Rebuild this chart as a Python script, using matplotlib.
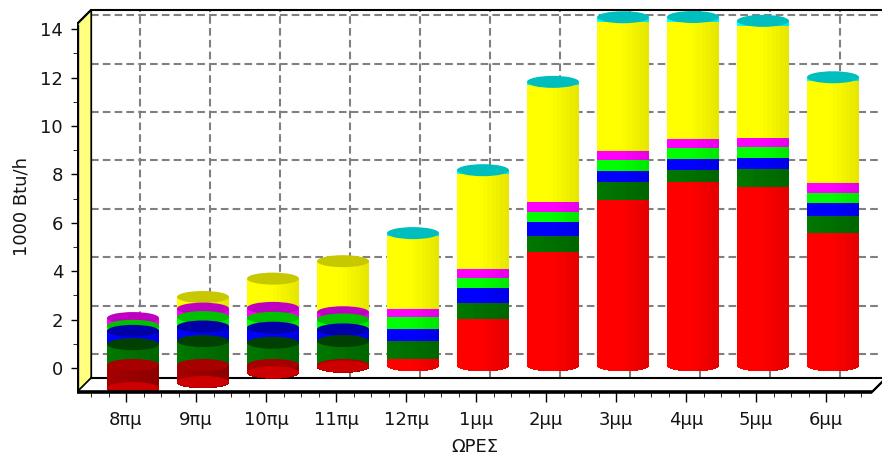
import numpy as np
import matplotlib
matplotlib.use("Agg")
import matplotlib.pyplot as plt
from matplotlib.patches import Polygon, Ellipse

# ---- data (1000 Btu/h per hour, stacked components) ----
categories = ['8πμ', '9πμ', '10πμ', '11πμ', '12πμ', '1μμ', '2μμ', '3μμ', '4μμ', '5μμ', '6μμ']
red     = [-0.95, -0.70, -0.30, -0.06, 0.26, 1.91, 4.66, 6.81, 7.55, 7.36, 5.45]
dkgreen = [0.86, 0.99, 0.92, 0.99, 0.72, 0.66, 0.67, 0.75, 0.52, 0.72, 0.70]
blue    = [0.55, 0.60, 0.62, 0.48, 0.52, 0.60, 0.59, 0.45, 0.45, 0.47, 0.55]
green   = [0.21, 0.39, 0.41, 0.41, 0.47, 0.41, 0.40, 0.47, 0.46, 0.47, 0.41]
magenta = [0.32, 0.35, 0.41, 0.30, 0.33, 0.38, 0.40, 0.36, 0.36, 0.37, 0.41]
yellow  = [0.00, 0.48, 1.21, 2.11, 3.03, 3.95, 4.86, 5.33, 4.82, 4.60, 4.21]
cyan    = [0.00, 0.00, 0.00, 0.00, 0.12, 0.14, 0.12, 0.20, 0.22, 0.23, 0.16]
yticks = list(range(0, 15, 2))

series = [red, dkgreen, blue, green, magenta, yellow, cyan]
body_colors = ['#ff0000', '#007000', '#0000ff', '#00ff00', '#ff00ff', '#ffff00', '#00ffff']
cap_colors = ['#c40000', '#004000', '#0000a8', '#00c000', '#c000c0', '#c8c800', '#00bebe']
neg_body = '#9a0000'
neg_cap = '#cc0000'

# ---- figure / pseudo-3D frame geometry (pixels) ----
W, H = 882, 461
box_l, box_r, box_t, box_b = 77, 882, 10, 392
cat_px, unit_px = 70.0, 24.2
first_cat_px, zero_px = 126, 368
depth_px = 14
front_end_px = 872

plt.rcParams['font.family'] = ['DejaVu Sans']
plt.rcParams['lines.scale_dashes'] = False
fig = plt.figure(figsize=(W / 100, H / 100), dpi=100)
fig.patch.set_facecolor('white')
ax = fig.add_axes([box_l / W, 1 - box_b / H, (box_r - box_l) / W, (box_b - box_t) / H])
x_lo = (box_l - first_cat_px) / cat_px
x_hi = (box_r - first_cat_px) / cat_px
y_lo = (zero_px - box_b) / unit_px
y_hi = (zero_px - box_t) / unit_px
ax.set_xlim(x_lo, x_hi)
ax.set_ylim(y_lo, y_hi)
ax.set_facecolor('none')
for s in ax.spines.values():
    s.set_visible(False)

ddx = depth_px / cat_px
ddy = depth_px / unit_px
vmin, vmax = y_lo, y_hi - ddy
xf_end = (front_end_px - first_cat_px) / cat_px

# left side wall
ax.add_patch(Polygon([(x_lo, vmin), (x_lo, vmax), (x_lo + ddx, vmax + ddy), (x_lo + ddx, vmin + ddy)],
                     closed=True, facecolor='#ffff80', edgecolor='black', lw=0.8, zorder=1))
# floor
ax.add_patch(Polygon([(x_lo, vmin), (xf_end, vmin), (xf_end + ddx, vmin + ddy), (x_lo + ddx, vmin + ddy)],
                     closed=True, facecolor='white', edgecolor='black', lw=1.2, zorder=1))
# back wall edges
ax.plot([x_lo + ddx, x_lo + ddx], [vmin + ddy, vmax + ddy], color='black', lw=0.9, zorder=1.5)
ax.plot([x_lo + ddx, xf_end + ddx], [vmax + ddy, vmax + ddy], color='black', lw=1.5, zorder=1.5,
        clip_on=False)
ax.plot([x_lo + ddx, xf_end + ddx], [vmin + ddy, vmin + ddy], color='black', lw=1.5, zorder=1.5,
        clip_on=False)

# dashed grid on back wall
grid_kw = dict(color='#808080', lw=1.5, dashes=(5.5, 3.0), zorder=1.2)
for v in yticks:
    ax.plot([x_lo + ddx, xf_end + ddx], [v + ddy, v + ddy], **grid_kw)
for i in range(len(categories)):
    ax.plot([i + ddx, i + ddx], [vmin + ddy, vmax + ddy], **grid_kw)

# ---- cylinders ----
hw = 26 / cat_px
ell = 6 / unit_px
plane_dy = (zero_px - 365) / unit_px
n_strips = 12


def shade(color, f):
    rgb = np.array(matplotlib.colors.to_rgb(color))
    return tuple(np.clip(rgb * f, 0, 1))


def body(cx, lo, hi, color, arc):
    edges = np.linspace(cx - hw, cx + hw, n_strips + 1)
    for a, b in zip(edges[:-1], edges[1:]):
        u = ((a + b) / 2 - cx) / hw
        f = 0.99 - 0.09 * u
        pts = [(a, hi), (b, hi)]
        if arc:
            xs = np.linspace(b, a, 6)
            pts += [(x, lo - ell * np.sqrt(max(0.0, 1 - ((x - cx) / hw) ** 2))) for x in xs]
        else:
            pts += [(b, lo), (a, lo)]
        ax.add_patch(Polygon(pts, closed=True, facecolor=shade(color, f), edgecolor='none',
                             antialiased=False, zorder=3))


def cap(cx, y, color):
    ax.add_patch(Ellipse((cx, y), 2 * hw, 2 * ell, facecolor=color, edgecolor='none', zorder=3))


for i in range(len(categories)):
    cx = i + ddx / 2
    vals = [s[i] for s in series]
    # positive parts stack up from zero
    segs = []
    base = 0.0
    for k, v in enumerate(vals):
        if v > 0:
            segs.append((k, base, base + v))
            base += v
    if vals[0] < 0:
        # stack drawn from the top down, every segment showing its cap
        for k, lo, hi in reversed(segs):
            body(cx, lo + plane_dy, hi + plane_dy, body_colors[k], True)
            cap(cx, hi + plane_dy, cap_colors[k])
        body(cx, vals[0] + plane_dy, plane_dy, neg_body, True)
        cap(cx, plane_dy, shade(neg_body, 1.08))
        cap(cx, vals[0] + plane_dy, neg_cap)
    else:
        for j, (k, lo, hi) in enumerate(segs):
            body(cx, lo + plane_dy, hi + plane_dy, body_colors[k], j == 0)
        k, lo, hi = segs[-1]
        cap(cx, hi + plane_dy, cap_colors[k])

# front axis lines
ax.plot([x_lo, x_lo], [vmin, vmax], color='black', lw=2.4, zorder=5, solid_capstyle='butt')
ax.plot([x_lo, x_lo + ddx], [vmax, vmax + ddy], color='black', lw=1.6, zorder=5)
ax.plot([x_lo, xf_end], [vmin, vmin], color='black', lw=2.6, zorder=5, solid_capstyle='butt',
        clip_on=False)
ax.plot([xf_end, xf_end + ddx], [vmin, vmin + ddy], color='black', lw=1.6, zorder=5, clip_on=False)

# ticks and labels
ax.set_yticks(yticks)
ax.set_yticklabels([str(v) for v in yticks])
ax.set_yticks(np.arange(0, 15, 1), minor=True)
ax.set_xticks(range(len(categories)))
ax.set_xticklabels(categories)
ax.set_xticks(np.arange(-0.5, len(categories) - 0.5 + 0.01, 0.25), minor=True)
ax.tick_params(axis='both', colors='black', labelcolor='#141414', labelsize=13, width=1)
ax.tick_params(axis='y', which='major', length=4, pad=6)
ax.tick_params(axis='y', which='minor', length=3)
ax.tick_params(axis='x', which='major', length=7, pad=6.5)
ax.tick_params(axis='x', which='minor', length=3.5)

fig.text(22 / W, 1 - 207 / H, '1000 Btu/h', rotation=90, ha='center', va='center',
         fontsize=13, color='#141414')
fig.text(475 / W, 1 - 447 / H, 'ΩΡΕΣ', ha='center', va='center', fontsize=13, color='#141414')

fig.savefig('out.png', dpi=100, facecolor='white')
